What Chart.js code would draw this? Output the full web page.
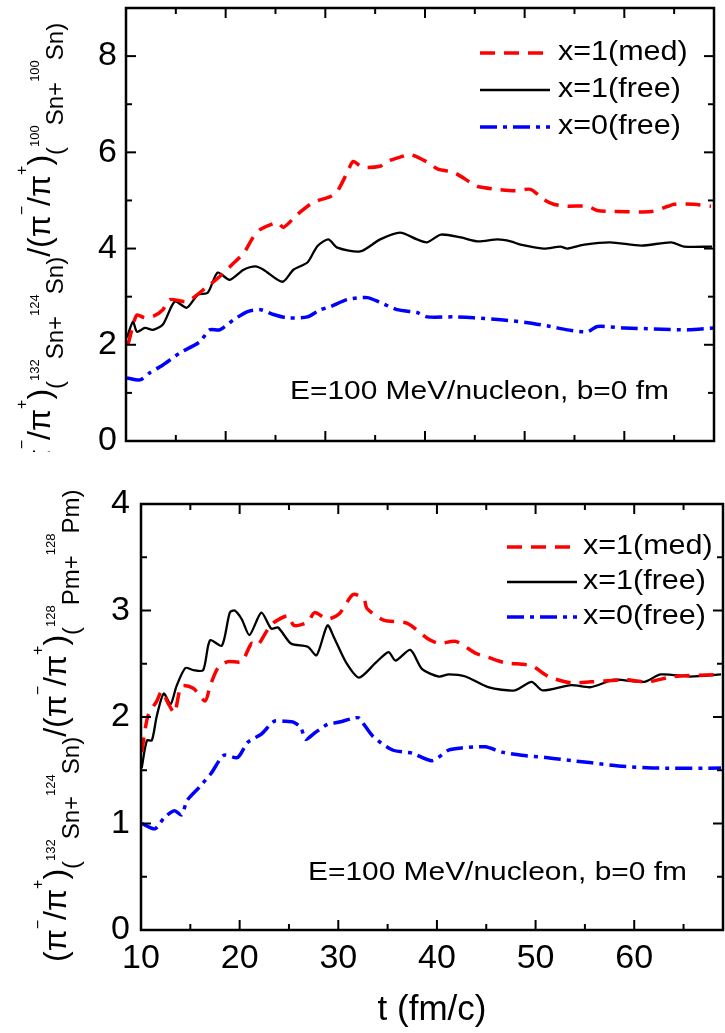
<!DOCTYPE html>
<html>
<head>
<meta charset="utf-8">
<script src="https://cdn.jsdelivr.net/npm/chart.js@4.4.1/dist/chart.umd.min.js"></script>
<style>
  html, body { margin: 0; padding: 0; background: #fff; }
  #wrap { position: relative; width: 725px; height: 1033px; overflow: hidden; }
  .panel { position: absolute; left: 0; width: 725px; }
  #topBox { top: 0; height: 452px; }
  #botBox { top: 452px; height: 581px; }
</style>
</head>
<body>
<div id="wrap">
  <div class="panel" id="topBox"><canvas id="topChart"></canvas></div>
  <div class="panel" id="botBox"><canvas id="botChart"></canvas></div>
</div>
<script>
// axes
const xMajor = [10, 20, 30, 40, 50, 60];
const xMinor = [15, 25, 35, 45, 55, 65];
const topYMajor = [0, 2, 4, 6, 8];
const topYMinor = [1, 3, 5, 7];
const botYMajor = [0, 1, 2, 3, 4];
const botYMinor = [0.5, 1.5, 2.5, 3.5];

const seriesLabels = ['x=1(med)', 'x=1(free)', 'x=0(free)'];
const noteText = 'E=100 MeV/nucleon, b=0 fm';

// upper panel: 132Sn+124Sn over 100Sn+100Sn
const topMedT = [10.2, 10.7, 11.1, 11.9, 12.8, 13.7, 14.4, 16.1, 18.1, 19.4, 20.8, 21.8, 22.8, 23.5, 25.2, 25.8, 27.2, 28.8, 30.5, 31.2, 32.2, 32.8, 33.7, 35.5, 36.2, 37.8, 38.5, 40.3, 41.3, 42.9, 44.6, 45.3, 47.3, 49.0, 50.6, 51.9, 52.9, 54.3, 56.3, 57.3, 58.9, 62.7, 64.4, 65.0, 67.0, 68.7];
const topMedV = [2.0, 2.4, 2.62, 2.56, 2.6, 2.73, 2.94, 2.9, 3.2, 3.42, 3.7, 3.9, 4.25, 4.4, 4.54, 4.44, 4.71, 4.96, 5.08, 5.19, 5.58, 5.81, 5.69, 5.71, 5.81, 5.92, 5.96, 5.79, 5.65, 5.58, 5.37, 5.29, 5.23, 5.2, 5.23, 5.02, 4.92, 4.88, 4.88, 4.79, 4.77, 4.77, 4.88, 4.92, 4.92, 4.88];
const topFreeT = [10.1, 10.7, 11.1, 11.9, 12.7, 13.7, 14.9, 16.1, 17.2, 18.2, 19.2, 20.4, 21.8, 23.0, 23.8, 25.7, 26.8, 28.2, 29.2, 30.3, 31.2, 33.5, 35.5, 37.5, 39.2, 40.2, 41.6, 43.6, 45.3, 47.3, 48.6, 49.6, 51.9, 53.6, 54.3, 56.0, 58.6, 61.7, 64.7, 66.0, 68.8];
const topFreeV = [2.15, 2.48, 2.27, 2.35, 2.31, 2.42, 2.9, 2.77, 3.04, 3.08, 3.5, 3.35, 3.56, 3.63, 3.56, 3.31, 3.56, 3.71, 4.05, 4.19, 4.02, 3.94, 4.19, 4.33, 4.19, 4.13, 4.29, 4.23, 4.15, 4.19, 4.15, 4.08, 4.0, 4.04, 4.0, 4.08, 4.13, 4.06, 4.13, 4.04, 4.04];
const topZeroT = [10.1, 11.4, 12.4, 13.7, 15.4, 17.4, 18.4, 19.4, 20.8, 22.2, 23.5, 24.8, 26.2, 28.2, 29.5, 30.5, 32.2, 34.2, 35.5, 37.2, 39.2, 40.2, 42.9, 44.9, 47.6, 50.3, 52.6, 54.3, 56.3, 57.3, 60.0, 63.0, 66.4, 69.0];
const topZeroV = [1.31, 1.27, 1.42, 1.58, 1.83, 2.06, 2.31, 2.31, 2.52, 2.69, 2.73, 2.63, 2.56, 2.58, 2.73, 2.79, 2.94, 2.98, 2.88, 2.73, 2.67, 2.58, 2.58, 2.56, 2.52, 2.46, 2.38, 2.31, 2.27, 2.38, 2.35, 2.33, 2.31, 2.35];

// lower panel: 132Sn+124Sn over 128Pm+128Pm
const botMedT = [10.07, 10.7, 11.6, 12.1, 12.8, 13.4, 14.1, 15.3, 16.5, 17.0, 17.8, 18.8, 20.2, 21.2, 21.8, 22.9, 23.5, 24.9, 25.5, 26.9, 27.6, 28.9, 30.1, 31.5, 32.6, 32.9, 34.6, 37.0, 39.0, 40.2, 41.9, 43.9, 45.2, 46.9, 49.6, 51.3, 53.6, 55.6, 59.0, 61.3, 64.0, 68.8];
const botMedV = [1.67, 2.01, 2.15, 2.24, 2.12, 2.04, 2.29, 2.27, 2.15, 2.29, 2.46, 2.52, 2.52, 2.69, 2.67, 2.83, 2.89, 2.95, 2.86, 2.89, 2.98, 2.92, 2.97, 3.15, 3.11, 3.02, 2.91, 2.88, 2.74, 2.69, 2.71, 2.60, 2.56, 2.51, 2.48, 2.38, 2.32, 2.33, 2.35, 2.33, 2.38, 2.40];
const botFreeT = [10.07, 10.6, 11.1, 11.6, 12.3, 13.0, 13.6, 14.5, 15.3, 16.3, 17.0, 18.2, 19.0, 19.5, 20.2, 21.0, 22.2, 23.2, 23.9, 25.2, 26.9, 27.8, 28.9, 29.6, 30.8, 32.1, 33.8, 35.1, 35.8, 37.3, 38.5, 40.2, 41.2, 42.9, 45.2, 47.9, 49.6, 50.7, 53.6, 55.6, 58.0, 61.0, 62.7, 65.7, 68.8];
const botFreeV = [1.52, 1.78, 1.78, 2.01, 2.22, 2.12, 2.29, 2.46, 2.44, 2.44, 2.72, 2.67, 2.98, 3.0, 2.92, 2.77, 2.98, 2.83, 2.84, 2.69, 2.66, 2.58, 2.86, 2.74, 2.51, 2.37, 2.51, 2.61, 2.53, 2.63, 2.45, 2.38, 2.40, 2.38, 2.28, 2.25, 2.33, 2.25, 2.30, 2.28, 2.35, 2.33, 2.40, 2.38, 2.40];
const botZeroT = [10.1, 11.4, 12.4, 13.4, 14.1, 14.7, 15.9, 17.1, 18.4, 19.8, 20.8, 22.2, 23.5, 24.5, 25.5, 26.2, 26.7, 27.6, 28.9, 30.0, 31.6, 32.1, 33.5, 35.5, 37.5, 39.5, 41.2, 42.5, 44.9, 46.6, 48.6, 51.0, 53.7, 55.7, 58.4, 62.5, 68.8];
const botZeroV = [1.0, 0.95, 1.06, 1.12, 1.08, 1.22, 1.34, 1.47, 1.64, 1.62, 1.76, 1.84, 1.96, 1.96, 1.95, 1.90, 1.79, 1.85, 1.93, 1.95, 1.99, 1.99, 1.82, 1.69, 1.66, 1.59, 1.69, 1.71, 1.72, 1.67, 1.64, 1.62, 1.59, 1.57, 1.54, 1.52, 1.52];

// y titles, read bottom to top: [text, kind]
const topTitle = [['(π', 'm'], ['−', 'sup'], ['/π', 'm'], ['+', 'sup'], [')', 'm'], ['(', 'sub'], ['132', 'iso'], ['Sn+', 'sub'], ['124', 'iso'], ['Sn)', 'sub'],
  ['/(π', 'm'], ['−', 'sup'], ['/π', 'm'], ['+', 'sup'], [')', 'm'], ['(', 'sub'], ['100', 'iso'], ['Sn+', 'sub'], ['100', 'iso'], ['Sn)', 'sub']];
const botTitle = [['(π', 'm'], ['−', 'sup'], ['/π', 'm'], ['+', 'sup'], [')', 'm'], ['(', 'sub'], ['132', 'iso'], ['Sn+', 'sub'], ['124', 'iso'], ['Sn)', 'sub'],
  ['/(π', 'm'], ['−', 'sup'], ['/π', 'm'], ['+', 'sup'], [')', 'm'], ['(', 'sub'], ['128', 'iso'], ['Pm+', 'sub'], ['128', 'iso'], ['Pm)', 'sub']];

const FONT = '"Liberation Sans", Arial, sans-serif';
const lineStyles = [
    { color: '#ff0000', width: 3.5, dash: [15, 9] },
    { color: '#000000', width: 2.3, dash: [] },
    { color: '#0000ff', width: 3.5, dash: [17, 6, 4, 6] },
];
const titleStyles = {
    m: { size: 32, rise: 0 },
    sup: { size: 16, rise: 23 },
    sub: { size: 24, rise: -13 },
    iso: { size: 13, rise: 11 },
};

const panelSettings = {
    topChart: {
        yMajor: topYMajor, yMinor: topYMinor,
        legend: { x1: 480, x2: 550, tx: 558, rows: [53, 90, 127] },
        note: { x: 290, y: 392 },
        title: { parts: topTitle, x: 50, y: 482 },
    },
    botChart: {
        yMajor: botYMajor, yMinor: botYMinor,
        legend: { x1: 507, x2: 577, tx: 583, rows: [95, 130, 165] },
        note: { x: 308, y: 421 },
        title: { parts: botTitle, x: 66, y: 510 },
    },
};

function stretchText(ctx, text, x, y, size, sx) {
    ctx.save();
    ctx.font = `${size}px ${FONT}`;
    ctx.translate(x, y);
    ctx.scale(sx, 1);
    ctx.fillText(text, 0, 0);
    ctx.restore();
}

function drawTitle(ctx, t) {
    ctx.save();
    ctx.translate(t.x, t.y);
    ctx.rotate(-Math.PI / 2);
    ctx.fillStyle = '#000';
    ctx.textBaseline = 'alphabetic';
    let pos = 0;
    t.parts.forEach(([text, kind]) => {
        const s = titleStyles[kind];
        ctx.font = `${s.size}px ${FONT}`;
        ctx.fillText(text, pos, -s.rise);
        pos += ctx.measureText(text).width;
    });
    ctx.restore();
}

const framePlugin = {
    id: 'frame',
    afterDraw(chart) {
        const cfg = panelSettings[chart.canvas.id];
        const { ctx, chartArea: a } = chart;
        const xs = chart.scales.x;
        const ys = chart.scales.y;
        ctx.save();
        ctx.strokeStyle = '#000';
        ctx.lineWidth = 2;
        const tick = (px, py, dx, dy) => {
            ctx.beginPath();
            ctx.moveTo(px, py);
            ctx.lineTo(px + dx, py + dy);
            ctx.stroke();
        };
        xMajor.forEach((v) => { const p = xs.getPixelForValue(v); tick(p, a.bottom, 0, -10); tick(p, a.top, 0, 10); });
        xMinor.forEach((v) => { const p = xs.getPixelForValue(v); tick(p, a.bottom, 0, -6); tick(p, a.top, 0, 6); });
        cfg.yMajor.forEach((v) => { const p = ys.getPixelForValue(v); tick(a.left, p, 10, 0); tick(a.right, p, -10, 0); });
        cfg.yMinor.forEach((v) => { const p = ys.getPixelForValue(v); tick(a.left, p, 6, 0); tick(a.right, p, -6, 0); });
        ctx.lineWidth = 2.5;
        ctx.strokeRect(a.left, a.top, a.width, a.height);

        // legend
        const lg = cfg.legend;
        ctx.fillStyle = '#000';
        ctx.textBaseline = 'middle';
        chart.data.datasets.forEach((ds, i) => {
            const y = lg.rows[i];
            ctx.save();
            ctx.strokeStyle = ds.borderColor;
            ctx.lineWidth = ds.borderWidth;
            ctx.setLineDash(ds.borderDash);
            ctx.beginPath();
            ctx.moveTo(lg.x1, y);
            ctx.lineTo(lg.x2, y);
            ctx.stroke();
            ctx.restore();
            stretchText(ctx, ds.label, lg.tx, y, 27, 1.13);
        });

        stretchText(ctx, noteText, cfg.note.x, cfg.note.y, 26, 1.15);
        drawTitle(ctx, cfg.title);
        ctx.restore();
    },
};

function pts(ts, vs) {
    return ts.map((t, i) => ({ x: t, y: vs[i] }));
}

function buildChart(id, series, opt) {
    const datasets = series.map(([ts, vs], i) => ({
        label: seriesLabels[i],
        data: pts(ts, vs),
        borderColor: lineStyles[i].color,
        borderWidth: lineStyles[i].width,
        borderDash: lineStyles[i].dash,
        pointRadius: 0,
        tension: 0.25,
        fill: false,
    }));
    const tickFont = { family: FONT, size: 34 };
    return new Chart(document.getElementById(id), {
        type: 'line',
        data: { datasets },
        options: {
            responsive: true,
            maintainAspectRatio: false,
            animation: false,
            devicePixelRatio: 1,
            layout: { padding: opt.pad },
            scales: {
                x: {
                    type: 'linear', min: 10, max: 69,
                    grid: { display: false, drawTicks: false },
                    border: { display: false },
                    ticks: { display: opt.xLabels, padding: 8, color: '#000', font: tickFont },
                    title: {
                        display: opt.xLabels, text: 't (fm/c)', color: '#000',
                        font: { family: FONT, size: 35 }, padding: { top: 0, bottom: 2 },
                    },
                    afterBuildTicks: (s) => { s.ticks = xMajor.map((v) => ({ value: v })); },
                    afterFit: (s) => { s.height = opt.xHeight; s.paddingLeft = 0; s.paddingRight = 0; },
                },
                y: {
                    type: 'linear', min: 0, max: opt.yMax,
                    grid: { display: false, drawTicks: false },
                    border: { display: false },
                    ticks: { padding: opt.yPad, color: '#000', font: tickFont },
                    afterBuildTicks: (s) => { s.ticks = opt.yMajor.map((v) => ({ value: v })); },
                    afterFit: (s) => { s.width = opt.yWidth; s.paddingTop = 0; s.paddingBottom = 0; },
                },
            },
            plugins: { legend: { display: false }, tooltip: { enabled: false } },
        },
        plugins: [framePlugin],
    });
}

buildChart('topChart', [[topMedT, topMedV], [topFreeT, topFreeV], [topZeroT, topZeroV]], {
    pad: { top: 8, right: 11, left: 0, bottom: 0 },
    xLabels: false, xHeight: 11, yMax: 9, yWidth: 126, yPad: 9, yMajor: topYMajor,
});
buildChart('botChart', [[botMedT, botMedV], [botFreeT, botFreeV], [botZeroT, botZeroV]], {
    pad: { top: 52, right: 2, left: 0, bottom: 0 },
    xLabels: true, xHeight: 103, yMax: 4, yWidth: 141, yPad: 11, yMajor: botYMajor,
});
</script>
</body>
</html>
